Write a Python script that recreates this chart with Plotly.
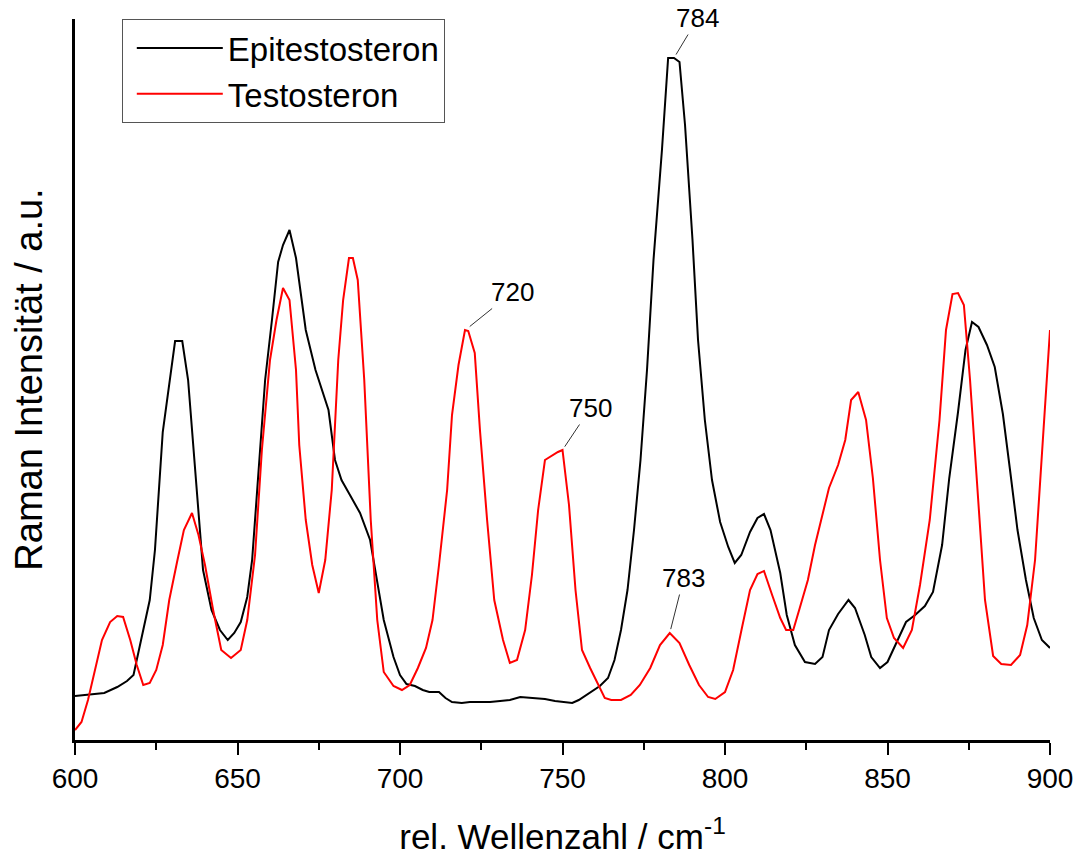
import plotly.graph_objects as go

# Epitestosteron (black)
epi_x = [600, 605, 609, 613, 616, 618, 619, 621, 623, 624.6, 627, 630.8, 633, 634.8, 637, 639.4,
         642, 644.6, 647, 649, 651, 653, 654.5, 656, 658.5, 660.6, 662.5, 664, 666, 668, 671, 674,
         678, 680, 682, 684.6, 687.7, 690.8, 693, 695, 698, 700, 702, 704.6, 707, 709, 712, 714,
         716, 719, 721.5, 724.6, 727.7, 730.8, 733.8, 737, 741.5, 744.6, 747.7, 750.8, 753, 755,
         758.5, 761.5, 764, 766, 768, 770, 772, 774, 776, 778, 780.6, 782.5, 784.3, 786, 787.7,
         790, 791.7, 793.8, 796, 798.5, 801, 803, 805, 807.7, 810, 812, 814, 817, 819, 821.5,
         824.6, 827.7, 830, 832, 834.8, 838, 840, 843, 845, 847.7, 850, 853, 855.7, 858.5, 861.5,
         864, 866.8, 869, 871.7, 874, 876, 878, 880.6, 883, 885.5, 887.7, 890, 892.6, 895, 897.5, 900]
epi_y = [44, 46, 47, 53, 59, 65, 80, 113, 140, 190, 308, 399, 399, 360, 270, 170,
         130, 110, 100, 107, 118, 143, 180, 250, 360, 420, 478, 495, 510, 482, 410, 370,
         330, 280, 260, 245, 227, 200, 160, 120, 83, 65, 56, 54, 50, 48, 48, 42,
         38, 37, 38, 38, 38, 39, 40, 43, 42, 41, 39, 38, 37, 40,
         48, 54, 62, 80, 110, 150, 210, 280, 370, 480, 590, 682, 682, 678, 615,
         500, 400, 320, 260, 218, 193, 177, 185, 208, 222, 226, 210, 167, 125, 95,
         78, 76, 83, 110, 126, 140, 132, 105, 83, 72, 78, 100, 118, 125, 134,
         148, 195, 262, 328, 390, 418, 413, 395, 373, 326, 270, 210, 160, 122, 100, 92]

# Testosteron (red)
tes_x = [600, 602, 604, 606, 608.3, 610.8, 613, 614.8, 617, 619, 621, 623, 625, 627, 629, 631.4,
         633.5, 636, 638, 640, 642.5, 645, 648, 651, 653, 655.4, 657.5, 660, 662, 664, 666, 668,
         669, 671, 673, 675, 677, 679, 681, 682.5, 684.3, 685.5, 687, 689, 691, 693, 695, 698,
         700.6, 703, 705.5, 708, 710, 712, 714.5, 716, 718, 720, 721, 723, 724.6, 726.8, 729,
         731.7, 733.8, 736, 738.5, 740.6, 742.5, 744.6, 747, 748.6, 750, 752, 754, 756, 758.5,
         761, 763, 765, 768, 771, 773.8, 777, 780, 783, 786, 789, 792, 794.8, 797, 800, 802.5,
         805.2, 807.7, 810, 812, 814.5, 817, 818.8, 821, 823, 825.5, 827.7, 830, 832, 834.8, 837,
         838.8, 841, 843.4, 845.5, 847.7, 849.8, 852, 854.8, 857.5, 860, 863, 866, 868, 870,
         871.7, 873.5, 875.4, 878, 880, 882.5, 885, 888, 890.8, 893, 895.4, 897.8, 900]
tes_y = [10, 18, 40, 68, 100, 118, 124, 123, 100, 75, 55, 57, 70, 95, 140, 178,
         210, 227, 205, 175, 130, 90, 82, 90, 120, 185, 290, 380, 420, 452, 440, 370,
         295, 220, 175, 147, 180, 250, 380, 440, 482, 482, 460, 360, 220, 120, 68, 54,
         50, 55, 72, 92, 120, 175, 250, 325, 375, 410, 409, 387, 310, 220, 140,
         100, 77, 80, 110, 165, 230, 280, 285, 288, 290, 235, 150, 90, 72,
         55, 42, 40, 40, 45, 55, 72, 95, 107, 97, 75, 55, 43, 41, 48, 70,
         112, 150, 166, 169, 145, 122, 110, 110, 132, 160, 195, 227, 252, 275, 300,
         340, 348, 320, 262, 180, 122, 102, 92, 110, 155, 220, 320, 410, 446,
         447, 435, 360, 240, 140, 84, 76, 75, 85, 115, 180, 300, 410]

# peak labels
peak_labels = ["784", "720", "750", "783"]
peak_x = [784.3, 720.5, 750, 783]
peak_y = [682, 411, 290, 107]
label_dx = [24, 46, 28, 14]
label_dy = [-40, -37, -42, -55]

FONT = "Liberation Sans, Arial, sans-serif"

fig = go.Figure()
fig.add_trace(go.Scatter(x=epi_x, y=epi_y, mode="lines", name="Epitestosteron",
                         line=dict(color="black", width=2)))
fig.add_trace(go.Scatter(x=tes_x, y=tes_y, mode="lines", name="Testosteron",
                         line=dict(color="#ff0000", width=2)))

for t, px, py, dx, dy in zip(peak_labels, peak_x, peak_y, label_dx, label_dy):
    fig.add_annotation(x=px, y=py, text=t, showarrow=True, arrowhead=0, arrowwidth=1,
                       arrowcolor="#333333", ax=dx, ay=dy, standoff=4,
                       font=dict(family=FONT, size=26, color="black"))

fig.update_layout(
    width=1078, height=856,
    margin=dict(l=75, r=28, t=19, b=116),
    paper_bgcolor="white", plot_bgcolor="white",
    font=dict(family=FONT, color="black"),
    showlegend=True,
    legend=dict(x=0.048, y=1.0, xanchor="left", yanchor="top",
                bordercolor="#555555", borderwidth=1, bgcolor="white",
                font=dict(family=FONT, size=33), itemwidth=86, indentation=9,
                tracegroupgap=0),
    xaxis=dict(range=[600, 900], showgrid=False, zeroline=False, automargin=False,
               showline=True, linecolor="black", linewidth=2.5,
               ticks="outside", ticklen=12, tickwidth=2, tickcolor="black",
               tick0=600, dtick=50, tickfont=dict(size=28), ticklabeloverflow="allow",
               minor=dict(ticks="outside", ticklen=7, tickwidth=2, tickcolor="black", dtick=25),
               title=dict(text="rel. Wellenzahl / cm<sup>-1</sup>", font=dict(size=35), standoff=38)),
    yaxis=dict(range=[0, 721], showgrid=False, zeroline=False, automargin=False,
               showline=True, linecolor="black", linewidth=3,
               ticks="", showticklabels=False,
               title=dict(text="Raman Intensität / a.u.", font=dict(size=38), standoff=18)),
)

fig.write_html("out.html")
